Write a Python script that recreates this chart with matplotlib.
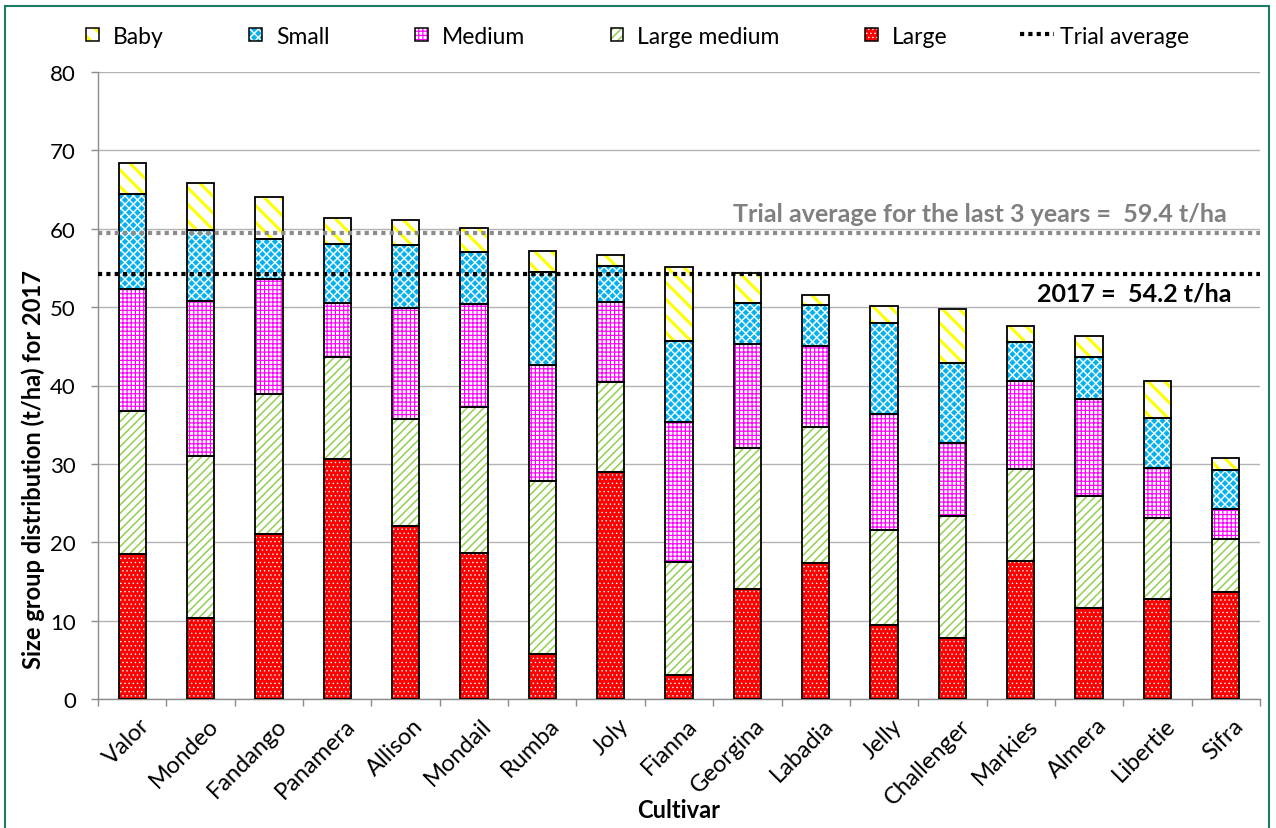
import numpy as np
import matplotlib
matplotlib.use("Agg")
import matplotlib.pyplot as plt
import matplotlib.hatch as mhatch
from matplotlib.path import Path
from matplotlib.patches import Rectangle
from matplotlib.lines import Line2D
from matplotlib.legend_handler import HandlerBase
from matplotlib.transforms import ScaledTranslation

# ---- data: yield per size group (t/ha), 2017 ----
cultivars = ["Valor", "Mondeo", "Fandango", "Panamera", "Allison", "Mondail",
             "Rumba", "Joly", "Fianna", "Georgina", "Labadia", "Jelly",
             "Challenger", "Markies", "Almera", "Libertie", "Sifra"]
large = [18.5, 10.3, 21.0, 30.6, 22.1, 18.6, 5.8, 28.9, 3.1, 14.0, 17.3,
         9.4, 7.8, 17.6, 11.6, 12.8, 13.7]
large_medium = [18.2, 20.7, 17.9, 13.1, 13.6, 18.7, 22.0, 11.5, 14.4, 18.0,
                17.4, 12.1, 15.5, 11.7, 14.3, 10.3, 6.7]
medium = [15.6, 19.8, 14.7, 6.8, 14.2, 13.1, 14.8, 10.3, 17.8, 13.3, 10.3,
          14.9, 9.4, 11.3, 12.4, 6.4, 3.9]
small = [12.1, 9.1, 5.1, 7.6, 8.0, 6.6, 11.9, 4.6, 10.4, 5.2, 5.3, 11.6,
         10.2, 4.9, 5.3, 6.4, 4.9]
baby = [4.0, 6.0, 5.3, 3.3, 3.2, 3.1, 2.7, 1.4, 9.4, 3.8, 1.3, 2.1, 6.8,
        2.1, 2.7, 4.7, 1.5]
avg_2017 = 54.2
avg_3yr = 59.4
yticks = [0, 10, 20, 30, 40, 50, 60, 70, 80]


# ---- a staggered filled-diamond fill pattern, used for the "o" hatch ----
class DiamondHatch(mhatch.HatchPatternBase):
    def __init__(self, hatch, density):
        self.cells = hatch.count('o') * density * 2
        if self.cells:
            n = self.cells
            self.centers = np.array([(i, j) for i in range(n + 1)
                                     for j in range(n + 1) if (i + j) % 2 == 0],
                                    float) / n
            self.num_vertices = len(self.centers) * 5
        else:
            self.num_vertices = 0

    def set_vertices_and_codes(self, vertices, codes):
        r = 0.68 / self.cells
        diamond = np.array([[0, -r], [r, 0], [0, r], [-r, 0], [0, -r]])
        vertices[:] = (self.centers[:, None, :] + diamond[None]).reshape(-1, 2)
        one = np.array([Path.MOVETO, Path.LINETO, Path.LINETO, Path.LINETO,
                        Path.CLOSEPOLY], dtype=Path.code_type)
        codes[:] = np.tile(one, len(self.centers))


mhatch._hatch_types = [t for t in mhatch._hatch_types
                       if t is not mhatch.SmallCircles] + [DiamondHatch]

FONT = "Lato"
plt.rcParams["font.family"] = [FONT, "DejaVu Sans"]

fig = plt.figure(figsize=(12.76, 8.29), dpi=100)
W, H = 1276, 829
ax = fig.add_axes([98 / W, 1 - 700 / H, (1260 - 98) / W, (700 - 73) / H])

# segment name, values, face colour, pattern colour, pattern, pattern width
segments = [
    ("Large", large, "#FF0000", "#FFFFFF", "....", 0.5),
    ("Large medium", large_medium, "#FFFFFF", "#92D050", "////", 1.1),
    ("Medium", medium, "#FFFFFF", "#FF00FF", "++++", 0.85),
    ("Small", small, "#FFFFFF", "#00B0F0", "oo", 0.3),
    ("Baby", baby, "#FFFFFF", "#FFFF00", "\\\\", 2.2),
]

x = np.arange(len(cultivars))
width = 0.4
bottom = np.zeros(len(x))
style = {}
for name, vals, face, pcol, hatch, hlw in segments:
    vals = np.asarray(vals, float)
    filled = ax.bar(x, vals, width, bottom=bottom, color=face, edgecolor=pcol,
                    linewidth=0, hatch=hatch, zorder=2)
    for p in filled:
        p.set_hatch_linewidth(hlw)
    ax.bar(x, vals, width, bottom=bottom, fill=False, edgecolor="black",
           linewidth=1.3, zorder=3)
    bottom += vals
    style[name] = (face, pcol, hatch, hlw)

# trial averages
dots = (0, (1, 1))
ax.axhline(avg_3yr, color="#8C8C8C", lw=3, ls=dots, zorder=4)
ax.axhline(avg_2017, color="black", lw=3, ls=dots, zorder=4)
ax.text(16.02, 61.0, f"Trial average for the last 3 years =  {avg_3yr} t/ha",
        ha="right", va="baseline", color="#808080", fontweight="bold",
        fontsize=18, zorder=5)
ax.text(16.08, 50.8, f"2017 =  {avg_2017} t/ha", ha="right", va="baseline",
        color="black", fontweight="bold", fontsize=18, zorder=5)

# axes
ax.set_xlim(-0.5, len(cultivars) - 0.5)
ax.set_ylim(0, 80)
ax.set_yticks(yticks)
ax.set_yticklabels([str(v) for v in yticks])
ax.yaxis.grid(True, color="#B3B3B3", lw=1.0, zorder=0)
ax.set_axisbelow(True)
for s in ("top", "right"):
    ax.spines[s].set_visible(False)
for s in ("left", "bottom"):
    ax.spines[s].set_color("#8C8C8C")
    ax.spines[s].set_linewidth(1.0)
ax.tick_params(axis="y", direction="out", length=5, width=1, color="#8C8C8C",
               pad=11, labelsize=16)
ax.set_xticks(x)
ax.set_xticklabels(cultivars, rotation=45, ha="right", va="top",
                   rotation_mode="anchor", fontsize=17)
ax.set_xticks(np.arange(-0.5, len(cultivars), 1.0), minor=True)
ax.tick_params(axis="x", which="major", length=0, pad=11)
ax.tick_params(axis="x", which="minor", direction="out", length=5, width=1,
               color="#8C8C8C")
shift = ScaledTranslation(5 / 72, 0, fig.dpi_scale_trans)
for lab in ax.get_xticklabels():
    lab.set_transform(lab.get_transform() + shift)

ax.set_xlabel("Cultivar", fontweight="bold", fontsize=17)
ax.xaxis.set_label_coords(0.5, -0.158)
ax.set_ylabel("Size group distribution (t/ha) for 2017", fontweight="bold",
              fontsize=17, va="center", ha="center")
ax.yaxis.set_label_coords(-0.056, 0.368)


# legend swatches: patterned square with a black outline
class SwatchHandler(HandlerBase):
    def create_artists(self, legend, orig_handle, xdescent, ydescent, width,
                       height, fontsize, trans):
        face, pcol, hatch, hlw = style[orig_handle.get_label()]
        side = 0.55 * fontsize
        x0 = width - xdescent - side - 6
        y0 = (height - side) / 2 - ydescent
        fill = Rectangle((x0, y0), side, side, facecolor=face, edgecolor=pcol,
                         linewidth=0, hatch=hatch, transform=trans)
        fill.set_hatch_linewidth(hlw)
        edge = Rectangle((x0, y0), side, side, fill=False, edgecolor="black",
                         linewidth=1.1, transform=trans)
        return [fill, edge]


legend_order = ["Baby", "Small", "Medium", "Large medium", "Large"]
handles = [Rectangle((0, 0), 1, 1, label=n) for n in legend_order]
line_handle = Line2D([], [], color="black", lw=3, ls=dots)
handler = SwatchHandler()
fig.legend(handles + [line_handle], legend_order + ["Trial average"],
           handler_map={h: handler for h in handles},
           loc="center left", bbox_to_anchor=(73 / W, 1 - 37 / H), ncol=6,
           frameon=False, fontsize=16.5, borderpad=0, borderaxespad=0,
           handlelength=1.5, handleheight=0.7, handletextpad=0.25,
           columnspacing=3.15)

# outer frame
fig.add_artist(Rectangle((5 / W, -0.02), (1269 - 5) / W, (829 - 7) / H + 0.02,
                         transform=fig.transFigure, fill=False,
                         edgecolor="#1E7B67", linewidth=1.5))

fig.savefig("out.png", dpi=100)
